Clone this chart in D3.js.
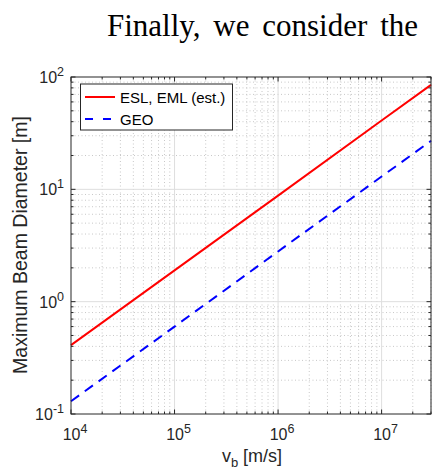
<!DOCTYPE html>
<html><head><meta charset="utf-8">
<script src="https://cdn.jsdelivr.net/npm/d3@7"></script>
<style>body{margin:0;background:#fff}svg{display:block}</style>
</head><body>
<script>
// Data
const speeds = [1e4, 1e5, 1e6, 1e7, 3e7];
const eslEml = [0.41, 1.9, 8.8, 41, 85];
const geo = [0.13, 0.60, 2.8, 13, 27];
const seriesNames = ["ESL, EML (est.)", "GEO"];
const xTicks = [1e4, 1e5, 1e6, 1e7];
const yTicks = [0.1, 1, 10, 100];
const headerWords = ["Finally,", "we", "consider", "the"];

const W = 435, H = 472;
const m = {left: 71, right: 431, top: 77, bottom: 414};
const svg = d3.select("body").append("svg").attr("width", W).attr("height", H);

// header text fragment (justified line between x=107 and x=418)
const hdr = svg.selectAll("text.hdr").data(headerWords).join("text")
  .attr("class","hdr").attr("y",36)
  .attr("font-family","'Liberation Serif','Times New Roman',serif")
  .attr("font-size",31).attr("fill","#000").text(d=>d);
const widths = hdr.nodes().map(n => n.getComputedTextLength());
const gap = (418 - 107 - d3.sum(widths)) / (headerWords.length - 1);
let cx = 107;
hdr.each(function(d,i){ d3.select(this).attr("x", cx); cx += widths[i] + gap; });

const x = d3.scaleLog().domain([1e4, 3e7]).range([m.left, m.right]);
const y = d3.scaleLog().domain([0.1, 100]).range([m.bottom, m.top]);

// minor ticks
const minorX = [], minorY = [];
for (let e = 4; e <= 7; e++) for (let k = 2; k <= 9; k++) { const v = k*Math.pow(10,e); if (v <= 3e7) minorX.push(v); }
for (let e = -1; e <= 1; e++) for (let k = 2; k <= 9; k++) minorY.push(k*Math.pow(10,e));

const g = svg.append("g");
// minor grid (dotted)
g.selectAll("line.mgx").data(minorX).join("line")
  .attr("x1",d=>x(d)).attr("x2",d=>x(d)).attr("y1",m.top).attr("y2",m.bottom)
  .attr("stroke","#c8c8c8").attr("stroke-width",1).attr("stroke-dasharray","1,2.5");
g.selectAll("line.mgy").data(minorY).join("line")
  .attr("y1",d=>y(d)).attr("y2",d=>y(d)).attr("x1",m.left).attr("x2",m.right)
  .attr("stroke","#c8c8c8").attr("stroke-width",1).attr("stroke-dasharray","1,2.5");
// major grid
g.selectAll("line.gx").data(xTicks.slice(1)).join("line")
  .attr("x1",d=>x(d)).attr("x2",d=>x(d)).attr("y1",m.top).attr("y2",m.bottom)
  .attr("stroke","#dedede").attr("stroke-width",1);
g.selectAll("line.gy").data(yTicks.slice(1,3)).join("line")
  .attr("y1",d=>y(d)).attr("y2",d=>y(d)).attr("x1",m.left).attr("x2",m.right)
  .attr("stroke","#dedede").attr("stroke-width",1);

// lines
const line = d3.line().x((d,i)=>x(speeds[i])).y(d=>y(d));
svg.append("path").datum(eslEml).attr("d",line).attr("fill","none")
  .attr("stroke","#ff0000").attr("stroke-width",2);
svg.append("path").datum(geo).attr("d",line).attr("fill","none")
  .attr("stroke","#0000ff").attr("stroke-width",2).attr("stroke-dasharray","10,7");

// axes (ticks inward on all four sides)
const font = "'Liberation Sans',Arial,Helvetica,sans-serif";
const axisCol = "#262626";
function tickLines(vals, scale, orient, len) {
  vals.forEach(v => {
    const p = scale(v);
    if (orient === "x") {
      svg.append("line").attr("x1",p).attr("x2",p).attr("y1",m.bottom).attr("y2",m.bottom-len).attr("stroke",axisCol);
      svg.append("line").attr("x1",p).attr("x2",p).attr("y1",m.top).attr("y2",m.top+len).attr("stroke",axisCol);
    } else {
      svg.append("line").attr("y1",p).attr("y2",p).attr("x1",m.left).attr("x2",m.left+len).attr("stroke",axisCol);
      svg.append("line").attr("y1",p).attr("y2",p).attr("x1",m.right).attr("x2",m.right-len).attr("stroke",axisCol);
    }
  });
}
tickLines(xTicks, x, "x", 4.5);
tickLines(minorX, x, "x", 2.5);
tickLines(yTicks, y, "y", 4.5);
tickLines(minorY, y, "y", 2.5);

svg.append("rect").attr("x",m.left).attr("y",m.top).attr("width",m.right-m.left).attr("height",m.bottom-m.top)
  .attr("fill","none").attr("stroke",axisCol).attr("stroke-width",1);

// tick labels
function powLabel(sel, v) {
  const e = Math.round(Math.log10(v));
  sel.append("tspan").text("10");
  sel.append("tspan").attr("dy",-7).attr("font-size",12.5).text(e);
}
xTicks.forEach(v => {
  const t = svg.append("text").attr("x",x(v)+4).attr("y",m.bottom+26)
    .attr("text-anchor","middle").attr("font-family",font).attr("font-size",16).attr("fill",axisCol);
  powLabel(t, v);
});
yTicks.forEach(v => {
  const t = svg.append("text").attr("x",m.left-7).attr("y",y(v)+6)
    .attr("text-anchor","end").attr("font-family",font).attr("font-size",16).attr("fill",axisCol);
  powLabel(t, v);
});

// axis labels
const xl = svg.append("text").attr("x",252).attr("y",462).attr("text-anchor","middle")
  .attr("font-family",font).attr("font-size",18).attr("fill",axisCol);
xl.append("tspan").text("v");
xl.append("tspan").attr("dy",5).attr("font-size",13).text("b");
xl.append("tspan").attr("dy",-5).text(" [m/s]");
svg.append("text").attr("transform","translate(27,245) rotate(-90)").attr("text-anchor","middle")
  .attr("font-family",font).attr("font-size",19.5).attr("fill",axisCol).text("Maximum Beam Diameter [m]");

// legend
const lg = svg.append("g");
lg.append("rect").attr("x",80.5).attr("y",84).attr("width",152).attr("height",46)
  .attr("fill","#fff").attr("stroke",axisCol).attr("stroke-width",1);
const legendColors = ["#ff0000","#0000ff"];
const legendDash = [null,"8,10"];
seriesNames.forEach((s,i) => {
  const ly = 97 + i*22;
  lg.append("line").attr("x1",85).attr("x2",115).attr("y1",ly).attr("y2",ly)
    .attr("stroke",legendColors[i]).attr("stroke-width",2).attr("stroke-dasharray",legendDash[i]);
  lg.append("text").attr("x",120).attr("y",ly+6).attr("font-family",font).attr("font-size",15)
    .attr("fill","#000").text(s);
});
</script>
</body></html>
